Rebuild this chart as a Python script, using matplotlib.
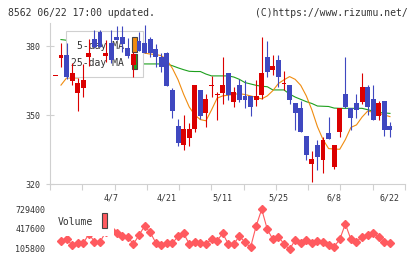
import numpy as np
import matplotlib

matplotlib.use("Agg")
import matplotlib.pyplot as plt
from matplotlib.patches import Rectangle

plt.rcParams["font.family"] = "DejaVu Sans Mono"

# daily candles, oldest first (first entry is the partly visible 3/24 doji)
opens = np.array([
    367.0, 374.9, 376.1, 364.9, 359.6, 361.9, 375.4, 382.9, 386.2, 375.8,
    381.2, 384.0, 383.8, 379.0, 371.7, 382.2, 381.2, 383.0, 378.6, 375.1,
    376.8, 360.9, 345.2, 337.0, 339.9, 343.8, 360.9, 350.7, 362.8, 358.8,
    359.7, 368.4, 355.8, 363.0, 358.3, 358.3, 356.5, 358.7, 375.3, 369.6,
    373.9, 363.6, 363.0, 355.2, 352.9, 340.9, 328.7, 337.0, 330.4, 342.0,
    327.5, 342.8, 359.0, 352.9, 355.1, 355.8, 362.3, 357.0, 349.7, 356.1,
    345.2,
])
highs = np.array([
    367.0, 381.3, 381.3, 372.7, 366.0, 372.3, 383.0, 387.0, 387.0, 382.6,
    387.0, 388.5, 388.5, 383.3, 377.5, 386.0, 389.0, 384.0, 380.9, 376.8,
    377.5, 361.7, 348.1, 350.0, 346.4, 363.0, 360.9, 359.1, 367.0, 360.1,
    375.3, 368.4, 362.3, 365.8, 365.2, 358.3, 365.2, 384.0, 382.3, 376.1,
    376.1, 369.1, 363.0, 355.2, 356.2, 341.0, 334.3, 339.1, 340.6, 349.2,
    337.0, 352.9, 375.3, 353.0, 359.0, 368.1, 363.0, 363.0, 356.1, 356.1,
    346.8,
])
lows = np.array([
    367.0, 371.0, 365.5, 363.0, 351.9, 358.0, 371.5, 379.0, 379.5, 373.2,
    372.5, 382.6, 377.5, 374.7, 366.7, 377.8, 376.8, 375.3, 371.0, 368.8,
    362.8, 348.8, 336.5, 334.8, 336.5, 342.8, 348.2, 344.9, 358.0, 347.8,
    354.8, 356.5, 353.6, 355.7, 352.9, 349.6, 353.9, 357.0, 366.7, 367.4,
    362.3, 360.9, 355.0, 343.5, 342.8, 330.4, 320.7, 326.0, 324.9, 339.6,
    326.5, 340.6, 352.9, 343.5, 348.8, 354.7, 350.0, 347.8, 347.8, 341.0,
    340.6,
])
closes = np.array([
    367.0, 376.2, 366.7, 368.3, 363.9, 365.2, 377.0, 379.7, 379.7, 376.8,
    373.9, 382.6, 380.9, 375.8, 376.4, 377.8, 376.8, 376.8, 375.1, 371.0,
    362.8, 351.9, 337.7, 343.8, 343.8, 363.0, 349.6, 356.8, 363.2, 359.2,
    363.0, 358.7, 360.1, 356.5, 356.5, 353.6, 358.3, 368.3, 368.8, 371.4,
    366.7, 364.0, 356.5, 350.7, 342.8, 332.6, 330.9, 331.9, 339.1, 339.6,
    337.0, 352.9, 353.6, 348.8, 352.2, 362.3, 353.6, 347.8, 355.1, 343.5,
    343.5,
])
ma5 = np.array([
    np.nan, 363.0, 366.1, 366.1, 366.1, 367.0, 367.4, 370.0, 372.3, 375.7,
    377.4, 378.5, 378.8, 378.0, 377.9, 377.5, 376.9, 376.5, 376.3, 375.8,
    373.9, 370.2, 365.3, 359.0, 353.5, 350.0, 348.0, 347.5, 352.2, 357.3,
    358.3, 358.6, 359.0, 359.3, 358.9, 358.3, 357.7, 357.0, 358.3, 360.6,
    363.7, 365.3, 366.7, 365.5, 362.9, 358.3, 352.2, 344.9, 339.3, 335.4,
    335.2, 335.1, 339.3, 344.6, 345.7, 349.1, 351.7, 351.2, 350.7, 350.0,
    349.3,
])
ma25 = np.array([
    np.nan, 382.8, 382.5, 382.0, 381.5, 381.0, 380.0, 379.5, 378.5, 377.5,
    376.5, 375.5, 374.5, 373.5, 373.0, 372.4, 372.2, 372.2, 372.2, 372.2,
    372.2, 371.4, 370.5, 369.7, 369.0, 368.9, 368.9, 367.8, 367.0, 367.0,
    367.0, 367.0, 366.5, 365.5, 364.1, 363.5, 362.9, 362.5, 362.3, 360.9,
    360.9, 360.9, 359.1, 357.8, 356.8, 355.8, 355.0, 353.9, 353.8, 353.7,
    353.0, 352.9, 352.9, 352.9, 352.9, 352.9, 352.3, 351.7, 351.1, 350.9,
    350.7,
])
volume = np.array([
    np.nan, 231000, 262000, 168000, 195000, 195000, 340000, 220000, 211000, 371000,
    402000, 350000, 308000, 288000, 184000, 324000, 464000, 366000, 204000, 168000,
    195000, 195000, 308000, 350000, 184000, 220000, 195000, 184000, 257000, 235000,
    350000, 184000, 184000, 308000, 210000, 132000, 464000, 725000, 413000, 257000,
    298000, 184000, 101000, 246000, 195000, 246000, 195000, 230000, 220000, 168000,
    142000, 257000, 496000, 257000, 220000, 298000, 324000, 360000, 288000, 220000,
    195000,
])
date_labels = ["4/7", "4/21", "5/11", "5/25", "6/8", "6/22"]
date_pos = [10, 20, 30, 40, 50, 60]
price_ticks = [320, 350, 380]
vol_ticks = [105800, 417600, 729400]

RED = "#db0000"
BLUE = "#3f48c0"
ORANGE = "#f08c10"
GREEN = "#1ea01e"
VOLC = "#ff5a5f"
GRID = "#d0d0d0"
TXT = "#333333"

fig = plt.figure(figsize=(4.2, 2.59), dpi=100)
ax = fig.add_axes([50 / 420, 1 - 184 / 259, 355 / 420, 161 / 259])
vax = fig.add_axes([50 / 420, 1 - 253 / 259, 355 / 420, 48 / 259])

xmin, xmax = -0.97, 62.7
x = np.arange(len(closes))

# moving averages sit under the legend box, candles above it
ax.plot(x, ma25, color=GREEN, lw=0.8, zorder=2)
ax.plot(x, ma5, color=ORANGE, lw=0.8, zorder=2)

up = closes >= opens
colors = np.where(up, RED, BLUE)
ax.vlines(x, lows, highs, colors=colors, linewidth=0.8, zorder=3)
body = np.maximum(np.abs(closes - opens), 0.45)
mid = (opens + closes) / 2
ax.bar(x, body, bottom=mid - body / 2, width=0.88, color=colors,
       linewidth=0, zorder=3)

# legend box
ax.add_patch(Rectangle((0.045, 0.663), 0.217, 0.29, transform=ax.transAxes,
                       facecolor="white", edgecolor=GRID, lw=0.8, zorder=2.5))
ax.text(0.2085, 0.857, "5-day MA", transform=ax.transAxes, ha="right",
        va="center", fontsize=7, color=TXT, zorder=2.6)
ax.text(0.2085, 0.752, "25-day MA", transform=ax.transAxes, ha="right",
        va="center", fontsize=7, color=TXT, zorder=2.6)
ax.add_patch(Rectangle((0.230, 0.820), 0.016, 0.091, transform=ax.transAxes,
                       facecolor=ORANGE, edgecolor="#444444", lw=0.8, zorder=2.6))
ax.add_patch(Rectangle((0.230, 0.712), 0.016, 0.095, transform=ax.transAxes,
                       facecolor=GREEN, edgecolor="#444444", lw=0.8, zorder=2.6))

ax.set_xlim(xmin, xmax)
ax.set_ylim(320, 390)
ax.set_yticks(price_ticks)
ax.set_yticklabels([str(t) for t in price_ticks])
ax.set_xticks(np.linspace(xmin, xmax, 12))
ax.set_xticklabels([])
ax.set_xticks(date_pos, minor=True)
ax.set_xticklabels(date_labels, minor=True)
ax.tick_params(axis="x", which="major", direction="out", length=4.5,
               color=GRID, width=0.8)
ax.tick_params(axis="x", which="minor", length=0, pad=6.5, labelsize=6,
               labelcolor=TXT)
ax.tick_params(axis="y", direction="inout", length=5.5, color=GRID,
               width=0.8, pad=4.5, labelsize=6, labelcolor=TXT)
for side in ("top", "right"):
    ax.spines[side].set_visible(False)
for side in ("left", "bottom"):
    ax.spines[side].set_color(GRID)
    ax.spines[side].set_linewidth(0.8)

# volume panel
vax.plot(x, volume, color=VOLC, lw=0.8, marker="D", ms=4.5, mec=VOLC,
         zorder=2)
vax.add_patch(Rectangle((0, 0.344), 0.18, 0.656, transform=vax.transAxes,
                        facecolor="white", edgecolor="none", zorder=3))
vax.text(0.0225, 0.652, "Volume", transform=vax.transAxes, ha="left",
         va="center", fontsize=7, color=TXT, zorder=4)
vax.add_patch(Rectangle((0.146, 0.521), 0.015, 0.312, transform=vax.transAxes,
                        facecolor=VOLC, edgecolor="#444444", lw=0.8, zorder=4))
vax.set_xlim(xmin, xmax)
vax.set_ylim(43440, 791760)
vax.set_yticks(vol_ticks)
vax.set_yticklabels([str(t) for t in vol_ticks])
vax.set_xticks([])
vax.tick_params(axis="y", length=0, pad=3.5, labelsize=6, labelcolor=TXT)
for s in vax.spines.values():
    s.set_visible(False)

fig.text(8 / 420, 1 - 12.5 / 259, "8562 06/22 17:00 updated.", ha="left",
         va="center", fontsize=7, color=TXT)
fig.text(408 / 420, 1 - 12.5 / 259, "(C)https://www.rizumu.net/", ha="right",
         va="center", fontsize=7, color=TXT)

fig.savefig("out.png", dpi=100)
